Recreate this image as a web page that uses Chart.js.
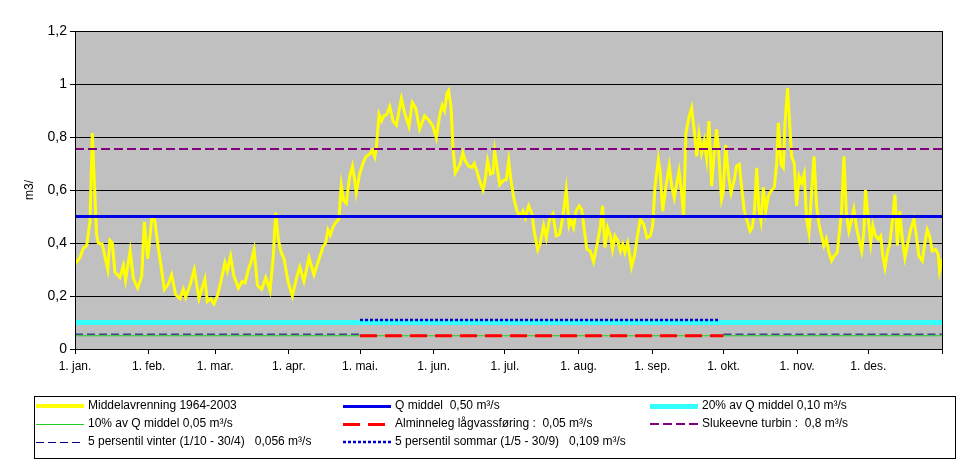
<!DOCTYPE html>
<html>
<head>
<meta charset="utf-8">
<script src="https://cdn.jsdelivr.net/npm/chart.js@4.4.1/dist/chart.umd.min.js"></script>
<style>
  body { margin: 0; background: #fff; }
  canvas { display: block; }
</style>
</head>
<body>
<canvas id="myChart" width="970" height="475"></canvas>
<script>
// Month tick labels and their day of year
const monthLabels = ['1. jan.', '1. feb.', '1. mar.', '1. apr.', '1. mai.', '1. jun.', '1. jul.', '1. aug.', '1. sep.', '1. okt.', '1. nov.', '1. des.', ''];
const monthDays = [0, 31, 59, 90, 120, 151, 181, 212, 243, 273, 304, 334, 365];

// Middelavrenning 1964-2003 (day of year, m3/s)
const dayOfYear = [
    0, 2.1, 3.5, 4.9, 6.3, 7.3, 8.1, 9.1, 9.8, 11.5, 13.8, 14.7, 15.7, 16.8, 18.9, 20.4, 21.3, 23.2, 24.6, 26.4, 28.1, 29.2, 30.6, 32.3, 33.4, 35.1, 36.2, 37.6, 39.3, 40.7, 42.4, 44.2, 45.6, 46.6, 48.4, 50.2, 52.2,
    53.3, 54.7, 55.7, 57.1, 58.5, 59.9, 61.3, 63.1, 64.1, 65.5, 66.9, 68.8, 70.4, 71.6, 73, 74, 75.4, 76.8, 78.6, 80.3, 82.1, 83.4, 84.5, 85.6, 86.6, 88, 89.8, 91.5, 93.2, 94.6, 96.4, 98.5, 100.6, 102.4, 104.4,
    105.5, 106.5, 107.5, 108.6, 110, 111.1, 112.1, 113.1, 114.2, 115.6, 116.8, 117.7, 118.4, 119.8, 121.2, 122.4, 124, 125.2, 126.2, 126.9, 128, 129, 130, 131.3, 132.5, 133.9, 135.3, 137.4, 138.8, 140.6, 142, 143.4, 145.1, 147.2, 149.3, 150.7, 152.1, 153.5, 154.6, 155.6, 156.6,
    157.3, 158.3, 159.1, 160.1, 161.1, 162.2, 163.3, 164.3, 165.7, 167.1, 168.1, 169.2, 170.6, 171.8, 172.7, 173.7, 174.9, 176, 176.7, 177.7, 178.8, 180.2, 181.6, 182.6, 183.5, 184.7, 186.1, 187.5, 188.6, 189.6, 191, 192.4, 193.4, 194.8, 195.9, 197.3, 198.4, 199.8, 201.2, 202.6, 204, 205.4, 206.8, 208, 208.8,
    209.9, 210.9, 212.3, 213.3, 214.4, 215.5, 216.9, 218.3, 219.7, 221.2, 222.1, 223.1, 224.2, 225.4, 226.3, 227.3, 228.5, 229.6, 230.6, 231.5, 232.7, 234.3, 235.5, 236.9, 238, 239.4, 240.8, 242.2, 243.2, 244.2, 245.6, 246.4, 247.4, 248.8, 250.2, 251.2, 252.3, 253.4, 254.3, 255.4, 256.2, 257.2, 258.6, 259.6, 261,
    261.7, 262.7, 263.8, 264.9, 265.9, 266.9, 268, 269.1, 270.1, 271.1, 272.2, 272.9, 273.9, 275, 276.2, 277.6, 278.5, 279.7, 280.6, 281.8, 283.2, 284.2, 285.1, 286, 287, 287.9, 288.8, 289.8, 290.8, 291.9, 293, 294.4, 295.4, 296.1, 297.2, 298.2, 298.9, 300, 301, 301.7, 302.8, 303.8, 304.8, 305.9, 307, 308, 309, 310.1, 311.1, 312.2, 313.2,
    314.3, 315.3, 316.3, 317.4, 318.5, 319.5, 320.9, 321.9, 322.7, 323.7, 324.7, 325.8, 327, 327.9, 328.9, 330, 331.2, 332.1, 332.8, 334, 335, 335.9, 337, 338.2, 339.2, 340.1, 341, 342, 343, 344.1, 345.2, 346.2, 347.2, 348.3, 349.4, 350.4, 351.8, 353.2, 354.2, 355.3, 356.7, 357.8, 358.8, 359.8, 360.9, 362.3, 363.4, 364, 365
];
const middelavrenning = [
    0.32, 0.345, 0.38, 0.39, 0.48, 0.815, 0.64, 0.43, 0.40, 0.395, 0.30, 0.41, 0.40, 0.29, 0.27, 0.315, 0.26, 0.37, 0.265, 0.23, 0.275, 0.48, 0.34, 0.49, 0.495, 0.38, 0.315, 0.225, 0.245, 0.28, 0.205, 0.19, 0.225, 0.195, 0.24, 0.30, 0.19,
    0.225, 0.265, 0.18, 0.19, 0.17, 0.20, 0.25, 0.325, 0.295, 0.35, 0.275, 0.23, 0.255, 0.25, 0.30, 0.325, 0.375, 0.24, 0.225, 0.27, 0.22, 0.34, 0.515, 0.415, 0.37, 0.34, 0.25, 0.20, 0.265, 0.31, 0.255, 0.345, 0.28, 0.33, 0.385,
    0.40, 0.45, 0.43, 0.46, 0.48, 0.49, 0.617, 0.56, 0.55, 0.65, 0.69, 0.64, 0.59, 0.66, 0.70, 0.725, 0.735, 0.75, 0.725, 0.765, 0.885, 0.86, 0.88, 0.885, 0.915, 0.86, 0.845, 0.945, 0.89, 0.84, 0.93, 0.91, 0.83, 0.88, 0.86, 0.84, 0.797, 0.88, 0.92, 0.90, 0.965,
    0.975, 0.915, 0.765, 0.665, 0.68, 0.70, 0.74, 0.71, 0.69, 0.685, 0.70, 0.67, 0.627, 0.60, 0.64, 0.71, 0.66, 0.665, 0.745, 0.685, 0.62, 0.635, 0.64, 0.71, 0.64, 0.57, 0.52, 0.50, 0.52, 0.495, 0.54, 0.51, 0.44, 0.375, 0.40, 0.465, 0.42, 0.49, 0.51, 0.427, 0.433, 0.50, 0.60, 0.465, 0.485,
    0.458, 0.52, 0.54, 0.527, 0.45, 0.376, 0.37, 0.33, 0.39, 0.465, 0.54, 0.383, 0.458, 0.427, 0.376, 0.427, 0.41, 0.37, 0.395, 0.364, 0.40, 0.31, 0.35, 0.433, 0.49, 0.47, 0.42, 0.427, 0.465, 0.615, 0.715, 0.665, 0.52, 0.615, 0.69, 0.615, 0.57, 0.627, 0.67, 0.59, 0.495, 0.815, 0.88, 0.91, 0.80,
    0.727, 0.81, 0.74, 0.785, 0.72, 0.86, 0.615, 0.74, 0.83, 0.727, 0.565, 0.59, 0.77, 0.665, 0.59, 0.64, 0.69, 0.697, 0.615, 0.52, 0.477, 0.445, 0.458, 0.515, 0.684, 0.527, 0.483, 0.61, 0.52, 0.577, 0.596, 0.61, 0.70, 0.853, 0.697, 0.684, 0.853, 0.985, 0.834, 0.727, 0.70, 0.54, 0.652, 0.627, 0.66, 0.49, 0.44, 0.59, 0.727, 0.54, 0.47,
    0.427, 0.39, 0.415, 0.364, 0.333, 0.35, 0.364, 0.45, 0.515, 0.727, 0.515, 0.445, 0.49, 0.527, 0.465, 0.415, 0.37, 0.44, 0.60, 0.49, 0.40, 0.465, 0.427, 0.415, 0.427, 0.35, 0.307, 0.364, 0.395, 0.483, 0.583, 0.39, 0.52, 0.415, 0.345, 0.39, 0.45, 0.49, 0.427, 0.35, 0.333, 0.40, 0.45, 0.427, 0.37, 0.376, 0.357, 0.295, 0.34
];

// Reference levels (m3/s) and the periods they apply to (day of year)
const qMiddel = 0.50;
const q20 = 0.10;
const q10 = 0.05;
const lavvass = 0.05;
const slukeevne = 0.755;
const persVinter = 0.056;
const persSommar = 0.109;
const heileAret = [0, 365];
const sommar = [120, 273];
const vinter1 = [0, 120];
const vinter2 = [273, 365];

function flatLine(level, span) {
    return span.map(d => ({ x: d, y: level }));
}

const flowData = dayOfYear.map((d, i) => ({ x: d, y: middelavrenning[i] }));

// Plot background and frame
const frame = {
    id: 'frame',
    beforeDraw(chart) {
        const a = chart.chartArea;
        const ctx = chart.ctx;
        ctx.save();
        ctx.fillStyle = '#c0c0c0';
        ctx.fillRect(a.left, a.top, a.right - a.left, a.bottom - a.top);
        ctx.restore();
    },
    afterDraw(chart) {
        const a = chart.chartArea;
        const ctx = chart.ctx;
        ctx.save();
        ctx.strokeStyle = '#000';
        ctx.lineWidth = 1;
        ctx.strokeRect(a.left + 0.5, a.top + 0.5, a.right - a.left, a.bottom - a.top);
        ctx.restore();
    }
};

// Boxed legend, three columns
const boxLegend = {
    id: 'boxLegend',
    afterDraw(chart) {
        const ctx = chart.ctx;
        const cols = [36, 343, 650];
        const rows = [406, 424, 442];
        ctx.save();
        ctx.strokeStyle = '#000';
        ctx.lineWidth = 1;
        ctx.strokeRect(34.5, 396.5, 921, 62);
        ctx.font = '12px "Liberation Sans", Arial, sans-serif';
        ctx.textBaseline = 'middle';
        ctx.fillStyle = '#000';
        chart.data.datasets.forEach((ds, i) => {
            const x = cols[i % 3];
            const w = ds.legendWidth || ds.borderWidth;
            const y = rows[Math.floor(i / 3)] + (w % 2 === 1 ? 0.5 : 0);
            ctx.beginPath();
            ctx.strokeStyle = ds.borderColor;
            ctx.lineWidth = w;
            ctx.setLineDash(ds.borderDash || []);
            ctx.moveTo(x, y);
            ctx.lineTo(x + 48, y);
            ctx.stroke();
            ctx.setLineDash([]);
            ctx.fillText(ds.label, x + 52, rows[Math.floor(i / 3)]);
        });
        ctx.restore();
    }
};

Chart.defaults.font.family = '"Liberation Sans", Arial, sans-serif';
Chart.defaults.color = '#000';

new Chart(document.getElementById('myChart'), {
    type: 'line',
    data: {
        datasets: [
            {
                label: 'Middelavrenning 1964-2003',
                data: flowData,
                borderColor: '#ffff00',
                borderWidth: 3,
                legendWidth: 4,
                order: 10
            },
            {
                label: 'Q middel  0,50 m³/s',
                data: flatLine(qMiddel, heileAret),
                borderColor: '#0000e6',
                borderWidth: 3,
                order: 9
            },
            {
                label: '20% av Q middel 0,10 m³/s',
                data: flatLine(q20, heileAret),
                borderColor: '#33ffff',
                borderWidth: 5,
                order: 8
            },
            {
                label: '10% av Q middel 0,05 m³/s',
                data: flatLine(q10, heileAret),
                borderColor: '#22cc22',
                borderWidth: 1,
                order: 7
            },
            {
                label: 'Alminneleg lågvassføring :  0,05 m³/s',
                data: flatLine(lavvass, sommar),
                borderColor: '#ff0000',
                borderWidth: 3,
                borderDash: [17, 8],
                order: 6
            },
            {
                label: 'Slukeevne turbin :  0,8 m³/s',
                data: flatLine(slukeevne, heileAret),
                borderColor: '#800080',
                borderWidth: 2,
                borderDash: [9, 4],
                order: 5
            },
            {
                label: '5 persentil vinter (1/10 - 30/4)   0,056 m³/s',
                data: flatLine(persVinter, vinter1).concat([{ x: 200, y: null }], flatLine(persVinter, vinter2)),
                borderColor: '#000080',
                borderWidth: 1,
                borderDash: [8, 4],
                order: 4
            },
            {
                label: '5 persentil sommar (1/5 - 30/9)   0,109 m³/s',
                data: flatLine(persSommar, [sommar[0], 271]),
                borderColor: '#0000cc',
                borderWidth: 2.5,
                borderDash: [3, 2],
                order: 3
            }
        ]
    },
    options: {
        responsive: false,
        animation: false,
        devicePixelRatio: 1,
        spanGaps: false,
        elements: {
            point: { radius: 0 },
            line: { tension: 0, fill: false }
        },
        layout: {
            padding: { left: 22, right: 28, top: 31, bottom: 96 }
        },
        plugins: {
            legend: { display: false },
            tooltip: { enabled: false }
        },
        scales: {
            x: {
                type: 'linear',
                min: 0,
                max: 365,
                afterBuildTicks: scale => {
                    scale.ticks = monthDays.map(d => ({ value: d }));
                },
                afterFit: scale => { scale.height = 30; },
                ticks: {
                    autoSkip: false,
                    maxRotation: 0,
                    padding: 5,
                    font: { size: 12 },
                    callback: (value, index) => monthLabels[index]
                },
                grid: {
                    drawOnChartArea: false,
                    drawTicks: true,
                    tickLength: 5,
                    color: '#000'
                },
                border: { display: true, color: '#000' }
            },
            y: {
                min: 0,
                max: 1.2,
                afterFit: scale => { scale.width = 53; },
                ticks: {
                    stepSize: 0.2,
                    padding: 3,
                    font: { size: 14 },
                    callback: value => String(Number(value.toFixed(1))).replace('.', ',')
                },
                grid: {
                    color: '#000',
                    lineWidth: 1,
                    tickLength: 5
                },
                border: { display: true, color: '#000' },
                title: {
                    display: true,
                    text: 'm3/',
                    font: { size: 12 },
                    padding: 0
                }
            }
        }
    },
    plugins: [frame, boxLegend]
});
</script>
</body>
</html>
